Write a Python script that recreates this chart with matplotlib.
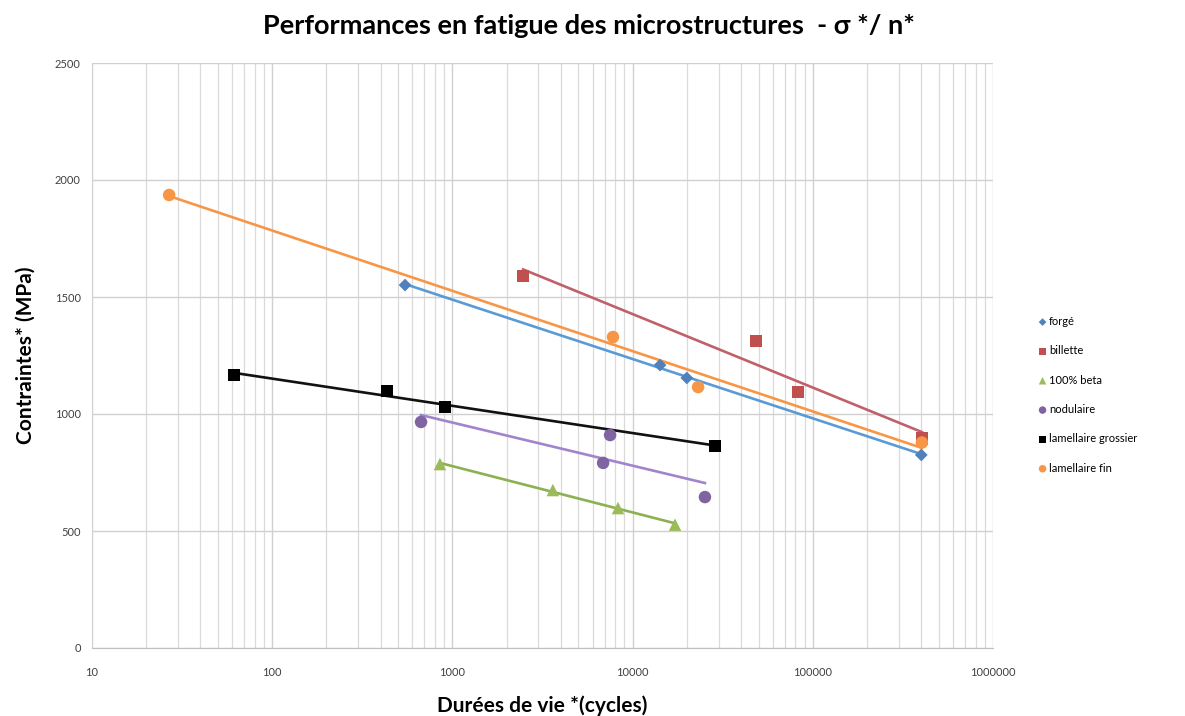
import numpy as np
import matplotlib
matplotlib.use("Agg")
import matplotlib.pyplot as plt
from matplotlib.ticker import LogLocator, FixedLocator, NullFormatter

plt.rcParams['font.family'] = ['Lato', 'DejaVu Sans']

# Fatigue data: lifetime (cycles) and stress (MPa) per microstructure
forge_n = [546, 14200, 20000, 400000]
forge_s = [1551, 1209, 1154, 825]

billette_n = [2470, 48400, 82800, 403000]
billette_s = [1590, 1312, 1094, 895]

beta_n = [853, 3610, 8300, 17200]
beta_s = [786, 675, 598, 527]

nodulaire_n = [670, 7500, 6860, 25200]
nodulaire_s = [966, 910, 791, 645]

grossier_n = [61.4, 433, 910, 28600]
grossier_s = [1167, 1098, 1030, 863]

fin_n = [26.8, 7780, 23100, 403000]
fin_s = [1936, 1329, 1115, 878]

series = [
    ("forgé", forge_n, forge_s, "D", "#4F81BD", "#5B9BD5", 6.5),
    ("billette", billette_n, billette_s, "s", "#C0504D", "#C0606A", 9),
    ("100% beta", beta_n, beta_s, "^", "#9BBB59", "#8DB050", 9),
    ("nodulaire", nodulaire_n, nodulaire_s, "o", "#8064A2", "#A284CC", 9),
    ("lamellaire grossier", grossier_n, grossier_s, "s", "#000000", "#111111", 8.5),
    ("lamellaire fin", fin_n, fin_s, "o", "#F79646", "#F79646", 9),
]

fig = plt.figure(figsize=(11.85, 7.16), dpi=100)
ax = fig.add_axes([92 / 1185, 1 - 648 / 716, (993 - 92) / 1185, (648 - 63) / 716])

handles = []
for label, n, s, mk, mcol, lcol, ms in series:
    n = np.asarray(n, float)
    s = np.asarray(s, float)
    # logarithmic trendline  s = a*ln(n) + b
    a, b = np.polyfit(np.log(n), s, 1)
    xs = np.array([n.min(), n.max()])
    ax.plot(xs, a * np.log(xs) + b, color=lcol, lw=1.9, zorder=3)
    h = ax.scatter(n, s, marker=mk, s=ms ** 2, color=mcol, zorder=4, label=label,
                   edgecolors='none')
    handles.append(h)

ax.set_xscale('log')
ax.set_xlim(10, 1e6)
ax.set_ylim(0, 2500)
ax.set_yticks(np.arange(0, 2501, 500))
ax.xaxis.set_major_locator(FixedLocator([10, 100, 1000, 10000, 100000, 1000000]))
ax.set_xticklabels(["10", "100", "1000", "10000", "100000", "1000000"])
ax.xaxis.set_minor_locator(LogLocator(base=10, subs=np.arange(2, 10)))
ax.xaxis.set_minor_formatter(NullFormatter())

ax.grid(True, which='major', color='#d0d0d0', lw=1.0, zorder=0)
ax.grid(True, which='minor', axis='x', color='#dadada', lw=0.9, zorder=0)
ax.set_axisbelow(True)

for side in ['top', 'right', 'left']:
    ax.spines[side].set_visible(False)
ax.spines['bottom'].set_color('#bfbfbf')
ax.tick_params(axis='both', which='both', length=0, labelsize=8, colors='#404040', pad=8)
ax.tick_params(axis='x', pad=14)

ax.set_xlabel("Durées de vie *(cycles)", fontsize=15, fontweight='bold', labelpad=12)
ax.set_ylabel("Contraintes* (MPa)", fontsize=15, fontweight='bold', labelpad=14)
fig.text(0.497, 0.963, "Performances en fatigue des microstructures  - σ */ n*",
         ha='center', va='center', fontsize=19.5, fontweight='bold')

fig.legend(handles=handles, loc='upper left', bbox_to_anchor=(1027 / 1185, 1 - 306 / 716),
           frameon=False, fontsize=8, markerscale=0.6, handletextpad=0.1,
           labelspacing=1.65, handlelength=1.0)

fig.savefig("out.png", dpi=100)
